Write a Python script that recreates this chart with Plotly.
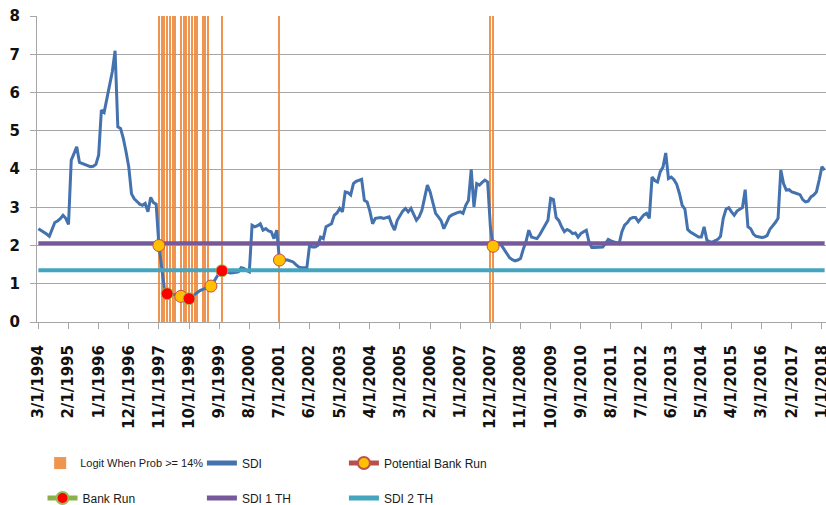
import pandas as pd
import plotly.graph_objects as go

# SDI, monthly, from 3/1/1994
sdi = [
    2.44, 2.40, 2.36, 2.30, 2.24, 2.40, 2.60, 2.64, 2.70, 2.79, 2.71, 2.55,
    4.23, 4.40, 4.58, 4.17, 4.14, 4.13, 4.10, 4.06, 4.07, 4.12, 4.36, 5.54,
    5.48, 5.85, 6.15, 6.55, 7.09, 5.10, 5.06, 4.80, 4.45, 4.05, 3.35, 3.22,
    3.15, 3.08, 3.05, 3.10, 2.88, 3.26, 3.12, 3.08, 2.00, 1.44, 0.87, 0.74,
    0.70, 0.72, 0.72, 0.70, 0.67, 0.65, 0.63, 0.61, 0.66, 0.72, 0.78, 0.82,
    0.85, 0.88, 0.90, 0.94, 1.05, 1.18, 1.28, 1.34, 1.32, 1.30, 1.28, 1.29,
    1.30, 1.31, 1.42, 1.40, 1.35, 1.31, 2.53, 2.49, 2.52, 2.57, 2.40, 2.44,
    2.38, 2.36, 2.18, 2.40, 1.62, 1.63, 1.63, 1.62, 1.60, 1.57, 1.50, 1.44,
    1.42, 1.42, 1.42, 2.01, 1.96, 1.96, 2.00, 2.22, 2.18, 2.49, 2.52, 2.57,
    2.79, 2.85, 2.97, 2.88, 3.40, 3.38, 3.32, 3.62, 3.68, 3.71, 3.73, 3.18,
    3.14, 2.90, 2.57, 2.71, 2.72, 2.73, 2.71, 2.73, 2.75, 2.55, 2.40, 2.66,
    2.78, 2.90, 2.97, 2.88, 2.97, 2.79, 2.66, 2.75, 2.92, 3.25, 3.58, 3.40,
    3.14, 2.84, 2.75, 2.65, 2.44, 2.62, 2.75, 2.80, 2.84, 2.86, 2.88, 2.84,
    3.05, 3.18, 3.99, 3.01, 3.62, 3.58, 3.65, 3.71, 3.66, 2.49, 1.98, 2.03,
    2.05, 2.01, 1.90, 1.78, 1.68, 1.63, 1.60, 1.62, 1.66, 1.90, 2.10, 2.40,
    2.22, 2.20, 2.18, 2.28, 2.40, 2.55, 2.66, 3.23, 3.20, 2.73, 2.65, 2.49,
    2.36, 2.42, 2.38, 2.31, 2.33, 2.22, 2.31, 2.36, 2.40, 2.09, 1.95, 1.95,
    1.95, 1.95, 1.96, 2.05, 2.16, 2.12, 2.09, 2.06, 2.05, 2.36, 2.53, 2.60,
    2.70, 2.73, 2.73, 2.62, 2.72, 2.80, 2.84, 2.71, 3.79, 3.70, 3.66, 3.93,
    4.05, 4.42, 3.75, 3.79, 3.72, 3.60, 3.36, 3.05, 2.95, 2.42, 2.35, 2.31,
    2.25, 2.22, 2.22, 2.49, 2.14, 2.10, 2.09, 2.12, 2.16, 2.24, 2.71, 2.95,
    2.99, 2.88, 2.79, 2.90, 2.95, 2.99, 3.46, 2.49, 2.44, 2.30, 2.24, 2.22,
    2.21, 2.22, 2.26, 2.42, 2.50, 2.60, 2.71, 3.97, 3.62, 3.45, 3.46, 3.40,
    3.38, 3.36, 3.33, 3.20, 3.14, 3.16, 3.27, 3.32, 3.40, 3.71, 4.06, 3.97,
]
months = [f"{d.month}/{d.day}/{d.year}"
          for d in pd.date_range("1994-03-01", periods=len(sdi), freq="MS")]

# months where the logit probability is >= 14% (drawn as full-height bars)
logit_months = [
    "11/1/1997", "12/1/1997", "1/1/1998", "2/1/1998", "3/1/1998", "4/1/1998", "5/1/1998",
    "7/1/1998", "8/1/1998", "9/1/1998", "10/1/1998", "11/1/1998", "12/1/1998", "1/1/1999",
    "3/1/1999", "4/1/1999", "5/1/1999", "10/1/1999", "7/1/2001", "12/1/2007", "1/1/2008",
]
logit_values = [8] * len(logit_months)

potential_months = ["11/1/1997", "7/1/1998", "6/1/1999", "7/1/2001", "1/1/2008"]
potential_values = [2.00, 0.67, 0.94, 1.62, 1.98]

bank_run_months = ["2/1/1998", "10/1/1998", "10/1/1999"]
bank_run_values = [0.74, 0.61, 1.34]

sdi1_th = 2.06
sdi2_th = 1.35

tick_labels = months[::11]

GRID = "#A6A6A6"
LEGEND_FAMILY = "Liberation Sans, Arial, sans-serif"


def sparse(src_months, src_values):
    lookup = dict(zip(src_months, src_values))
    return [lookup.get(m) for m in months]


fig = go.Figure()
fig.add_trace(go.Bar(
    x=logit_months, y=logit_values, width=0.38, name="Logit When Prob >= 14%",
    marker=dict(color="#EE8A3E", line=dict(width=0)), opacity=0.9, legend="legend",
))
fig.add_trace(go.Scatter(
    x=months, y=sdi, mode="lines", name="SDI",
    line=dict(color="#4472AE", width=3), legend="legend2",
))
fig.add_trace(go.Scatter(
    x=months, y=[sdi1_th] * len(months), mode="lines", name="SDI 1 TH",
    line=dict(color="#75599A", width=4), legend="legend5",
))
fig.add_trace(go.Scatter(
    x=months, y=[sdi2_th] * len(months), mode="lines", name="SDI 2 TH",
    line=dict(color="#45A5BF", width=4), legend="legend6",
))
fig.add_trace(go.Scatter(
    x=months, y=sparse(potential_months, potential_values), mode="lines+markers",
    name="Potential Bank Run", connectgaps=False,
    line=dict(color="#B5504C", width=3),
    marker=dict(size=12, color="#FFC000", line=dict(color="#C0504D", width=1)),
    legend="legend3",
))
fig.add_trace(go.Scatter(
    x=months, y=sparse(bank_run_months, bank_run_values), mode="lines+markers",
    name="Bank Run", connectgaps=False,
    line=dict(color="#8AB04A", width=3),
    marker=dict(size=12, color="#FF0000", line=dict(color="#9BBB59", width=1)),
    legend="legend4",
))


def legend_box(x, y, size=12):
    return dict(orientation="h", x=x, xanchor="left", y=y, yanchor="middle",
                itemsizing="constant", bgcolor="rgba(0,0,0,0)",
                font=dict(family=LEGEND_FAMILY, size=size, color="#1a1a1a"))


row1, row2 = -0.461, -0.575
fig.update_layout(
    width=826, height=505,
    margin=dict(l=37, r=0, t=16, b=183, autoexpand=False),
    paper_bgcolor="white", plot_bgcolor="white",
    showlegend=True,
    bargap=0,
    legend=legend_box(0.004, row1, size=11),
    legend2=legend_box(0.209, row1),
    legend3=legend_box(0.389, row1),
    legend4=legend_box(0.007, row2),
    legend5=legend_box(0.209, row2),
    legend6=legend_box(0.389, row2),
)
fig.update_xaxes(
    type="category", categoryorder="array", categoryarray=months,
    range=[-0.5, len(months) - 0.5], automargin=False,
    tickmode="array", tickvals=tick_labels, ticktext=tick_labels, tickangle=-90,
    ticks="outside", ticklen=6, tickcolor=GRID, ticklabelstandoff=10,
    showgrid=False, showline=True, linecolor=GRID, linewidth=1,
    tickfont=dict(family="DejaVu Sans", size=15, weight="bold", color="#111"),
)
fig.update_yaxes(
    range=[0, 8], dtick=1, tick0=0, automargin=False,
    showgrid=True, gridcolor=GRID, gridwidth=1, zeroline=False,
    showline=True, linecolor=GRID, linewidth=1,
    ticks="outside", ticklen=6, tickcolor=GRID, ticklabelstandoff=7,
    tickfont=dict(family="DejaVu Sans", size=15, weight="bold", color="#111"),
)

# the page body has a default 8px margin; drop it so the figure sits at the window corner
fig.write_html("out.html", config={"displayModeBar": False},
               post_script="document.body.style.margin = '0';")
